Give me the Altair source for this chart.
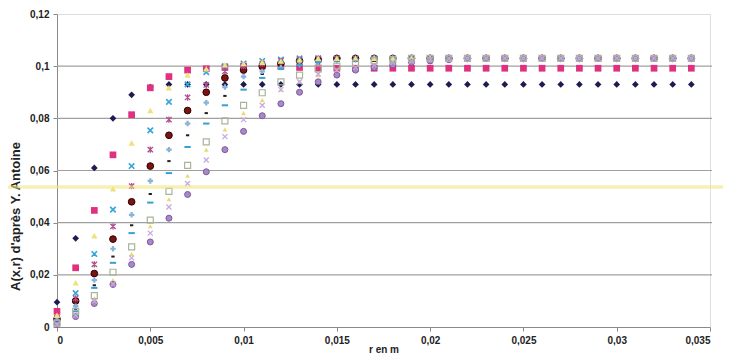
import altair as alt
import pandas as pd

# r in m : 0 .. 0.034 step 0.001
r_mm = [0, 1, 2, 3, 4, 5, 6, 7, 8, 9, 10, 11, 12, 13, 14, 15, 16, 17, 18, 19,
        20, 21, 22, 23, 24, 25, 26, 27, 28, 29, 30, 31, 32, 33, 34]

s_navy = [0.0095, 0.034, 0.061, 0.080, 0.089, 0.092, 0.093, 0.093, 0.093, 0.093,
          0.093, 0.093, 0.093, 0.093, 0.093, 0.093, 0.093, 0.093, 0.093, 0.093,
          0.093, 0.093, 0.093, 0.093, 0.093, 0.093, 0.093, 0.093, 0.093, 0.093,
          0.093, 0.093, 0.093, 0.093, 0.093]
s_magenta = [0.006, 0.0227, 0.0447, 0.066, 0.0814, 0.0917, 0.096, 0.0985, 0.099, 0.0995,
             0.100, 0.100, 0.100, 0.0995, 0.0993, 0.0992, 0.0992, 0.0992, 0.0992, 0.0992,
             0.0992, 0.0992, 0.0992, 0.0992, 0.0992, 0.0992, 0.0992, 0.0992, 0.0992, 0.0992,
             0.0992, 0.0992, 0.0992, 0.0992, 0.0992]
s_yellow = [0.0045, 0.017, 0.035, 0.053, 0.0705, 0.083, 0.0917, 0.0966, 0.099, 0.1005,
            0.101, 0.1015, 0.102, 0.1025, 0.103, 0.103, 0.103, 0.103, 0.103, 0.103,
            0.103, 0.103, 0.103, 0.103, 0.103, 0.103, 0.103, 0.103, 0.103, 0.103,
            0.103, 0.103, 0.103, 0.103, 0.103]
s_cyan_x = [0.003, 0.013, 0.028, 0.045, 0.0617, 0.0754, 0.0863, 0.093, 0.0977, 0.100,
            0.101, 0.102, 0.1025, 0.103, 0.103, 0.103, 0.103, 0.103, 0.103, 0.103,
            0.103, 0.103, 0.103, 0.103, 0.103, 0.103, 0.103, 0.103, 0.103, 0.103,
            0.103, 0.103, 0.103, 0.103, 0.103]
s_star = [0.0035, 0.011, 0.024, 0.0386, 0.054, 0.068, 0.0795, 0.088, 0.0928, 0.098,
          0.100, 0.101, 0.102, 0.1025, 0.103, 0.103, 0.103, 0.103, 0.103, 0.103,
          0.103, 0.103, 0.103, 0.103, 0.103, 0.103, 0.103, 0.103, 0.103, 0.103,
          0.103, 0.103, 0.103, 0.103, 0.103]
s_maroon = [0.003, 0.010, 0.0205, 0.0337, 0.048, 0.0617, 0.0735, 0.083, 0.090, 0.0955,
            0.0985, 0.100, 0.101, 0.102, 0.1025, 0.103, 0.103, 0.103, 0.103, 0.103,
            0.103, 0.103, 0.103, 0.103, 0.103, 0.103, 0.103, 0.103, 0.103, 0.103,
            0.103, 0.103, 0.103, 0.103, 0.103]
s_plus = [0.0025, 0.008, 0.018, 0.030, 0.043, 0.056, 0.068, 0.078, 0.086, 0.092,
          0.096, 0.098, 0.0995, 0.1005, 0.1015, 0.102, 0.1025, 0.103, 0.103, 0.103,
          0.103, 0.103, 0.103, 0.103, 0.103, 0.103, 0.103, 0.103, 0.103, 0.103,
          0.103, 0.103, 0.103, 0.103, 0.103]
s_black_dash = [0.002, 0.007, 0.016, 0.027, 0.039, 0.051, 0.0636, 0.0735, 0.082, 0.0886,
                0.093, 0.097, 0.099, 0.100, 0.101, 0.102, 0.1025, 0.103, 0.103, 0.103,
                0.103, 0.103, 0.103, 0.103, 0.103, 0.103, 0.103, 0.103, 0.103, 0.103,
                0.103, 0.103, 0.103, 0.103, 0.103]
s_cyan_dash = [0.002, 0.006, 0.015, 0.0246, 0.036, 0.0477, 0.059, 0.069, 0.078, 0.085,
               0.091, 0.0955, 0.099, 0.1005, 0.1015, 0.102, 0.1025, 0.103, 0.103, 0.103,
               0.103, 0.103, 0.103, 0.103, 0.103, 0.103, 0.103, 0.103, 0.103, 0.103,
               0.103, 0.103, 0.103, 0.103, 0.103]
s_green_sq = [0.0015, 0.006, 0.012, 0.021, 0.0307, 0.041, 0.052, 0.062, 0.071, 0.079,
              0.085, 0.0898, 0.094, 0.0966, 0.099, 0.100, 0.101, 0.102, 0.1025, 0.103,
              0.103, 0.103, 0.103, 0.103, 0.103, 0.103, 0.103, 0.103, 0.103, 0.103,
              0.103, 0.103, 0.103, 0.103, 0.103]
s_yellow2 = [0.0012, 0.005, 0.011, 0.018, 0.028, 0.0386, 0.049, 0.058, 0.068, 0.0757,
             0.082, 0.087, 0.091, 0.094, 0.0965, 0.098, 0.0995, 0.1005, 0.1015, 0.102,
             0.1025, 0.103, 0.103, 0.103, 0.103, 0.103, 0.103, 0.103, 0.103, 0.103,
             0.103, 0.103, 0.103, 0.103, 0.103]
s_lavender = [0.001, 0.0045, 0.010, 0.0165, 0.0265, 0.036, 0.046, 0.055, 0.064, 0.073,
              0.0795, 0.085, 0.091, 0.094, 0.097, 0.0985, 0.0995, 0.1005, 0.1015, 0.102,
              0.1025, 0.103, 0.103, 0.103, 0.103, 0.103, 0.103, 0.103, 0.103, 0.103,
              0.103, 0.103, 0.103, 0.103, 0.103]
s_purple_c = [0.001, 0.004, 0.009, 0.0163, 0.024, 0.0326, 0.0417, 0.0508, 0.0595, 0.068,
              0.075, 0.081, 0.0856, 0.090, 0.094, 0.0966, 0.0985, 0.0995, 0.1005, 0.1015,
              0.102, 0.1025, 0.103, 0.103, 0.103, 0.103, 0.103, 0.103, 0.103, 0.103,
              0.103, 0.103, 0.103, 0.103, 0.103]

y_ticks = [0, 0.02, 0.04, 0.06, 0.08, 0.1, 0.12]
x_ticks = [0, 0.005, 0.01, 0.015, 0.02, 0.025, 0.03, 0.035]
grid_vals = [0.02, 0.04, 0.06, 0.08, 0.1]
band_val = [0.0537]

X_PATH = "M-1,-1L1,1M-1,1L1,-1"
STAR_PATH = "M-1,-1L1,1M-1,1L1,-1M0,-1.2L0,1.2"
DASH_PATH = "M-1,0L1,0"
SHORT_PATH = "M-0.6,0L0.6,0"

# (values, shape, colour, filled, size, strokeWidth, stroke) - drawing order
series = [
    (s_navy, "diamond", "#1c1c50", True, 45, 0, None),
    (s_magenta, "square", "#e0307f", True, 45, 0, None),
    (s_maroon, "circle", "#7a1414", True, 45, 1, "#300000"),
    (s_black_dash, SHORT_PATH, "#202020", False, 30, 2, None),
    (s_cyan_x, X_PATH, "#38a4d8", False, 30, 1.6, None),
    (s_star, STAR_PATH, "#b0508a", False, 28, 1.3, None),
    (s_plus, "cross", "#88b4d8", True, 30, 0, None),
    (s_cyan_dash, DASH_PATH, "#3a9fd0", False, 40, 2, None),
    (s_yellow, "triangle-up", "#efe27a", True, 40, 0, None),
    (s_yellow2, "triangle-up", "#ecd870", True, 22, 0, None),
    (s_purple_c, "circle", "#a888c8", True, 36, 1, "#7a5a9a"),
    (s_lavender, X_PATH, "#c8a8e0", False, 25, 1.3, None),
    (s_green_sq, "square", "#a8b49c", False, 36, 1.2, None),
]

xscale = alt.Scale(domain=[0, 0.035], nice=False)
yscale = alt.Scale(domain=[0, 0.12], nice=False)

label_expr = "replace(format(datum.value, '~g'), '.', ',')"

x_axis = alt.Axis(values=x_ticks, labelExpr=label_expr, title="r en m", grid=False,
                  domainColor="#8a8a8a", tickColor="#8a8a8a", tickSize=4, labelPadding=4,
                  labelFont="Liberation Sans", labelFontWeight="bold", labelFontSize=10,
                  labelColor="#222222", titleFont="Liberation Sans", titleFontWeight="bold",
                  titleFontSize=10, titleColor="#222222", titleY=22, titleBaseline="middle")
y_axis = alt.Axis(values=y_ticks, labelExpr=label_expr, title="A(x,r) d'après Y. Antoine",
                  grid=False, domainColor="#8a8a8a", tickColor="#8a8a8a", tickSize=4,
                  labelPadding=4, labelFont="Liberation Sans", labelFontWeight="bold",
                  labelFontSize=10, labelColor="#222222", titleFont="Liberation Sans",
                  titleFontWeight="bold", titleFontSize=13, titleColor="#222222",
                  titleX=-42, titleY=202, titleAlign="center", titleBaseline="middle",
                  titleAngle=270)

grid_df = pd.DataFrame({"g": grid_vals})
grid = alt.Chart(grid_df).mark_rule(color="#a0a0a0", strokeWidth=1.2).encode(
    y=alt.Y("g:Q", scale=yscale, axis=y_axis),
    x=alt.value(0), x2=alt.value(655))

layers = [grid]
for vals, shape, colour, filled, size, sw, stroke in series:
    df = pd.DataFrame({"r": [v / 1000 for v in r_mm], "A": vals})
    kw = dict(shape=shape, size=size, opacity=1)
    if filled:
        kw.update(filled=True, fill=colour, fillOpacity=1)
        if stroke:
            kw.update(stroke=stroke, strokeWidth=sw)
        else:
            kw.update(strokeWidth=0)
    else:
        kw.update(filled=False, stroke=colour, strokeWidth=sw)
    layers.append(alt.Chart(df).mark_point(**kw).encode(
        x=alt.X("r:Q", scale=xscale, axis=x_axis),
        y=alt.Y("A:Q", scale=yscale, axis=y_axis)))

band_df = pd.DataFrame({"b": band_val})
band = alt.Chart(band_df).mark_rule(color="#f0e680", strokeWidth=3.5, opacity=0.6).encode(
    y=alt.Y("b:Q", scale=yscale, axis=y_axis),
    x=alt.value(-57), x2=alt.value(680))
layers.append(band)

chart = alt.layer(*layers).properties(
    width=653, height=313,
    padding={"left": 49, "top": 6, "right": 13, "bottom": 27},
    autosize=alt.AutoSizeParams(type="none"),
).configure_view(stroke=None).configure(background="white")

chart.save("out.html", embed_options={"renderer": "svg", "actions": False})
